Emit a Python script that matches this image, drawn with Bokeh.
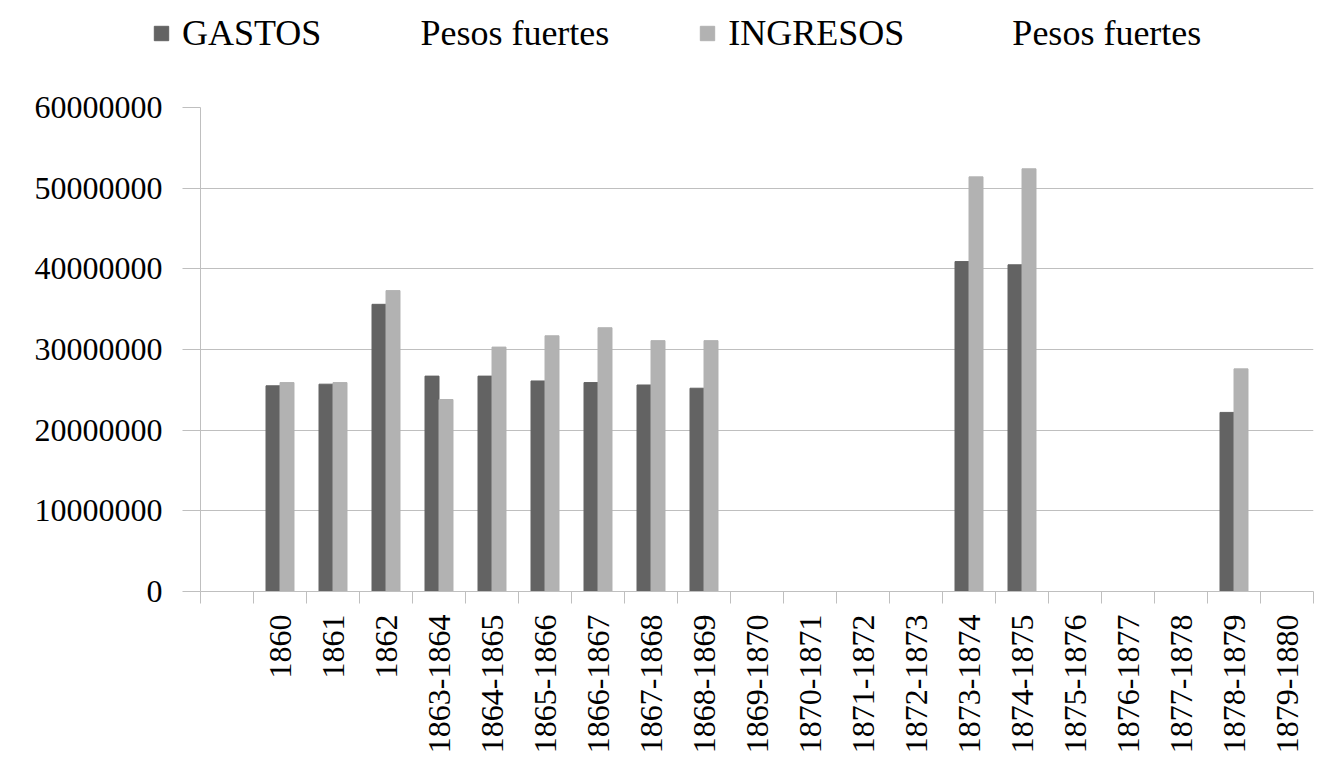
import math
import numpy as np
from bokeh.plotting import figure
from bokeh.layouts import column
from bokeh.models import (Range1d, LinearAxis, FixedTicker, Legend, LegendItem,
                          ColumnDataSource, NumeralTickFormatter, Grid)
from bokeh.transform import dodge
from bokeh.embed import file_html
from bokeh.resources import INLINE

nan = float("nan")

categories = [" ", "1860", "1861", "1862", "1863-1864", "1864-1865", "1865-1866",
              "1866-1867", "1867-1868", "1868-1869", "1869-1870", "1870-1871",
              "1871-1872", "1872-1873", "1873-1874", "1874-1875", "1875-1876",
              "1876-1877", "1877-1878", "1878-1879", "1879-1880"]

gastos = [nan, 25.5e6, 25.7e6, 35.6e6, 26.7e6, 26.7e6, 26.1e6, 25.9e6, 25.6e6, 25.2e6,
          nan, nan, nan, nan, 40.9e6, 40.5e6, nan, nan, nan, 22.2e6, nan]

ingresos = [nan, 25.9e6, 25.9e6, 37.3e6, 23.8e6, 30.3e6, 31.7e6, 32.7e6, 31.1e6, 31.1e6,
            nan, nan, nan, nan, 51.4e6, 52.4e6, nan, nan, nan, 27.6e6, nan]

y_ticks = [0, 10000000, 20000000, 30000000, 40000000, 50000000, 60000000]

NB = "\u00a0"
label_gastos = "GASTOS" + NB * 11 + "Pesos fuertes"
label_ingresos = "INGRESOS" + NB * 12 + "Pesos fuertes"

FONT = "Liberation Serif"
GRID = "#bfbfbf"
DARK = "#636363"
LIGHT = "#b2b2b2"

n = len(categories)
centers = [i + 0.5 for i in range(n)]
edges = [float(i) for i in range(n + 1)]

src = ColumnDataSource(data=dict(x=centers,
                                 gastos=np.array(gastos, dtype=float),
                                 ingresos=np.array(ingresos, dtype=float)))

# ---- main chart ----
p = figure(x_range=Range1d(0, n), y_range=Range1d(0, 60000000),
           width=1320, height=678,
           output_backend="svg", toolbar_location=None,
           x_axis_location=None, y_axis_location=None,
           min_border_left=200, min_border_top=25, min_border_right=7,
           min_border_bottom=169, outline_line_color=None)
p.frame_align = False
p.grid.visible = False

yaxis = LinearAxis(ticker=FixedTicker(ticks=y_ticks),
                   formatter=NumeralTickFormatter(format="0"),
                   axis_line_color=GRID, major_tick_line_color=GRID,
                   major_tick_out=18, major_tick_in=0, minor_tick_line_color=None,
                   major_label_standoff=20, major_label_text_font=FONT,
                   major_label_text_font_size="32px", major_label_text_color="black")
p.add_layout(yaxis, "left")
p.add_layout(Grid(dimension=1, ticker=yaxis.ticker, grid_line_color=GRID))

# category axis: labels at centres, tick marks at the boundaries
xaxis = LinearAxis(ticker=FixedTicker(ticks=centers, minor_ticks=edges),
                   major_label_overrides={c: lab for c, lab in zip(centers, categories)},
                   axis_line_color=GRID, major_tick_line_color=None,
                   major_tick_out=0, major_tick_in=0,
                   minor_tick_line_color=GRID, minor_tick_out=12, minor_tick_in=0,
                   major_label_orientation=math.pi / 2, major_label_standoff=11,
                   major_label_text_font=FONT, major_label_text_font_size="32px",
                   major_label_text_color="black")
p.add_layout(xaxis, "below")

p.vbar(x=dodge("x", -0.132), top="gastos", width=0.264,
       source=src, fill_color=DARK, line_color=DARK)
p.vbar(x=dodge("x", 0.132), top="ingresos", width=0.264,
       source=src, fill_color=LIGHT, line_color=LIGHT)

# ---- legend strip (swatch-only renderers, not drawn themselves) ----
lf = figure(width=1320, height=82, x_range=Range1d(0, 1), y_range=Range1d(0, 1),
            output_backend="svg", toolbar_location=None,
            x_axis_location=None, y_axis_location=None,
            min_border=0, outline_line_color=None)
lf.frame_align = False
lf.grid.visible = False
lsrc = ColumnDataSource(data=dict(x=[0.5], top=[1.0]))
g1 = lf.vbar(x="x", top="top", width=0.1, source=lsrc, fill_color=DARK, line_color=DARK)
g2 = lf.vbar(x="x", top="top", width=0.1, source=lsrc, fill_color=LIGHT, line_color=LIGHT)
g1.visible = False
g2.visible = False

legend = Legend(items=[LegendItem(label=label_gastos, renderers=[g1]),
                       LegendItem(label=label_ingresos, renderers=[g2])],
                orientation="horizontal", location=(152, 28),
                glyph_width=18, glyph_height=18, label_standoff=12, spacing=89,
                padding=0, margin=0, border_line_color=None, background_fill_alpha=0,
                label_text_font=FONT, label_text_font_size="36px",
                label_text_color="black")
lf.add_layout(legend)

layout = column(lf, p, spacing=0)
open("out.html", "w").write(file_html(layout, INLINE))
